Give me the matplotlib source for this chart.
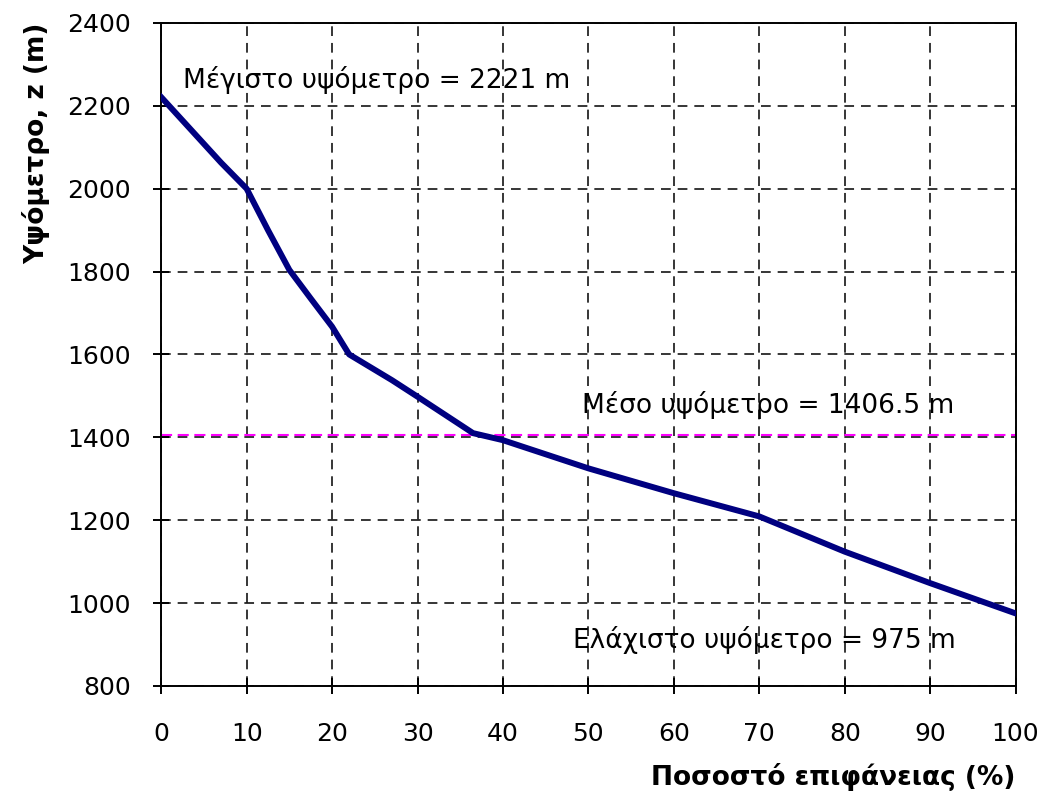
import numpy as np
import matplotlib.pyplot as plt

# καμπύλη υψομέτρου - ποσοστού επιφάνειας
pososto = [0, 7, 10, 12.5, 15, 17.5, 20, 22, 27, 30, 36.5, 40, 50, 60, 70, 80, 90, 100]
ypsometro = [2221, 2063, 2000, 1900, 1804, 1735, 1667, 1600,
             1538, 1498, 1410, 1393, 1325, 1265, 1209, 1124, 1048, 975]
meso = 1406.5
megisto = 2221
elaxisto = 975

x_ticks = np.arange(0, 101, 10)
y_ticks = np.arange(800, 2401, 200)

plt.rcParams['font.family'] = ['DejaVu Sans']
plt.rcParams['lines.scale_dashes'] = False

fig = plt.figure(figsize=(10.4, 7.92), dpi=100)
ax = fig.add_axes([0.155, 0.134, 0.8215, 0.837])

ax.set_xlim(0, 100)
ax.set_ylim(800, 2400)
ax.set_xticks(x_ticks)
ax.set_yticks(y_ticks)
ax.grid(True, color='black', linestyle=(0, (7, 5)), linewidth=1.1)
ax.set_axisbelow(True)

ax.axhline(meso, color='#ff00ff', linestyle=(0, (8, 4)), linewidth=1.5, zorder=2)
ax.plot(pososto, ypsometro, color='#000080', linewidth=4.3, zorder=3)

for s in ax.spines.values():
    s.set_linewidth(1.4)
ax.tick_params(direction='inout', length=12, width=1.4, labelsize=18)
ax.tick_params(axis='y', pad=16)
ax.tick_params(axis='x', pad=20)

ax.text(2.5, 2262, 'Μέγιστο υψόμετρο = %d m' % megisto, fontsize=19, va='center')
ax.text(49.2, 1478, 'Μέσο υψόμετρο = %.1f m' % meso, fontsize=19, va='center')
ax.text(48.2, 911, 'Ελάχιστο υψόμετρο = %d m' % elaxisto, fontsize=19, va='center')

ax.set_xlabel('Ποσοστό επιφάνειας (%)', fontsize=19, fontweight='bold', loc='right', labelpad=12)
ax.set_ylabel('Υψόμετρο, z (m)', fontsize=19, fontweight='bold', loc='top', labelpad=12)

fig.savefig('out.png', dpi=100)
